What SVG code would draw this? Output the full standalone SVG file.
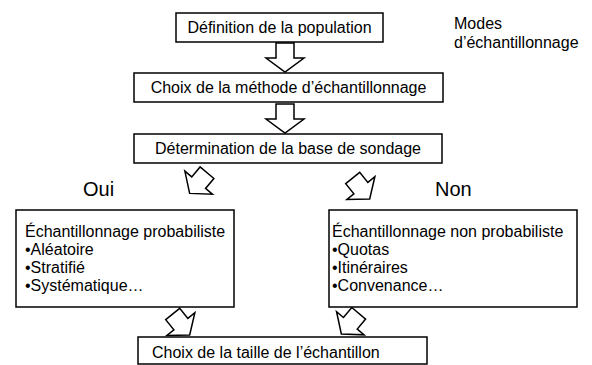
<svg xmlns="http://www.w3.org/2000/svg" xmlns:xlink="http://www.w3.org/1999/xlink" width="592" height="365" viewBox="0 0 592 365">
<style>
.box{fill:#fff;stroke:#000;stroke-width:1.5}
.arr{fill:#fff;stroke:#000;stroke-width:1.5;stroke-linejoin:miter}
text{font-family:"Liberation Sans",Arial,sans-serif;font-size:16px;fill:#000}
.mid{text-anchor:middle}
.big{font-size:20px}
</style>
<defs>
<path id="va" d="M-9,0 H9 V15 H19 L0,29 L-19,15 H-9 Z"/>
<path id="da" d="M-9,0 H9 V13 H18 L0,27 L-18,13 H-9 Z"/>
</defs>
<rect width="592" height="365" fill="#fff"/>
<g id="connectors">
<use href="#va" class="arr" transform="translate(285,43)"/>
<use href="#va" class="arr" transform="translate(285,104)"/>
<use href="#da" class="arr" transform="translate(207,172.7) rotate(40)"/>
<use href="#da" class="arr" transform="translate(352.7,178) rotate(-39)"/>
<use href="#da" class="arr" transform="translate(172.7,314) rotate(-39)"/>
<use href="#da" class="arr" transform="translate(358.7,313.3) rotate(40)"/>
</g>
<g id="n1">
<rect class="box" x="176" y="13" width="207" height="29"/>
<text class="mid" x="279.5" y="33">Définition de la population</text>
</g>
<g id="n2">
<rect class="box" x="134" y="73" width="309" height="29"/>
<text class="mid" x="288.5" y="93">Choix de la méthode d’échantillonnage</text>
</g>
<g id="n3">
<rect class="box" x="134" y="134" width="308" height="29"/>
<text class="mid" x="288" y="154">Détermination de la base de sondage</text>
</g>
<g id="lbl">
<text x="454" y="29">Modes</text>
<text x="454" y="48">d’échantillonnage</text>
<text class="big" x="83" y="196">Oui</text>
<text class="big" x="435" y="196">Non</text>
</g>
<g id="n4">
<rect class="box" x="16" y="210" width="218" height="97"/>
<text x="25" y="237">Échantillonnage probabiliste</text>
<text x="25" y="255">•Aléatoire</text>
<text x="25" y="273">•Stratifié</text>
<text x="25" y="291">•Systématique…</text>
</g>
<g id="n5">
<rect class="box" x="329" y="210" width="248" height="97"/>
<text x="332" y="237">Échantillonnage non probabiliste</text>
<text x="332" y="255">•Quotas</text>
<text x="332" y="273">•Itinéraires</text>
<text x="332" y="291">•Convenance…</text>
</g>
<g id="n6">
<rect class="box" x="138" y="337" width="289" height="27"/>
<text x="152" y="358">Choix de la taille de l’échantillon</text>
</g>
</svg>
